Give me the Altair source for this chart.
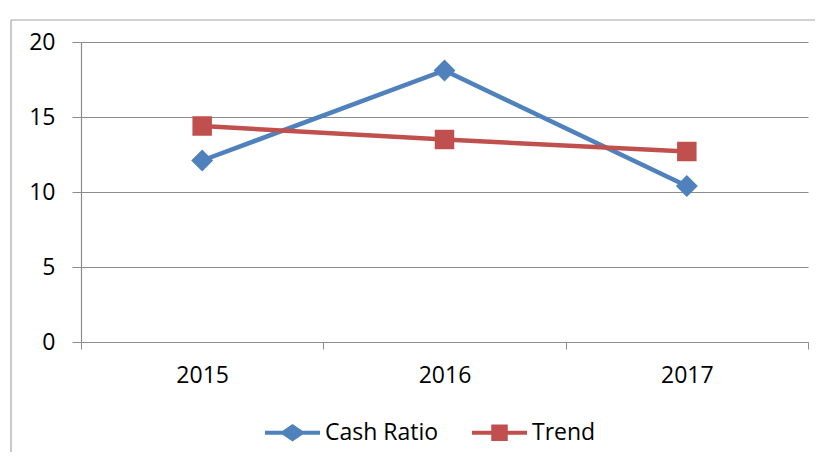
import altair as alt
import pandas as pd

years = ["2015", "2016", "2017"]
cash_ratio = [12.1, 18.1, 10.4]
trend = [14.4, 13.5, 12.7]
series_names = ["Cash Ratio", "Trend"]
series_colors = ["#4F81BD", "#C0504D"]
y_ticks = [0, 5, 10, 15, 20]

rows = []
for yr, v in zip(years, cash_ratio):
    rows.append({"year": yr, "value": v, "series": "Cash Ratio"})
for yr, v in zip(years, trend):
    rows.append({"year": yr, "value": v, "series": "Trend"})
df = pd.DataFrame(rows)

FONT = "Open Sans"
GRAY = "#8C8C8C"
FS = 23

legend_paths = [
    "M-1,-0.075L-0.36,-0.075L0,-0.32L0.36,-0.075L1,-0.075L1,0.075L0.36,0.075L0,0.32L-0.36,0.075L-1,0.075Z",
    "M-1,-0.075L-0.3,-0.075L-0.3,-0.3L0.3,-0.3L0.3,-0.075L1,-0.075L1,0.075L0.3,0.075L0.3,0.3L-0.3,0.3L-0.3,0.075L-1,0.075Z",
]

x_enc = alt.X(
    "year:N",
    sort=years,
    scale=alt.Scale(type="band", paddingInner=0, paddingOuter=0),
    axis=alt.Axis(
        title=None, labelAngle=0, tickBand="extent", tickSize=7, tickColor=GRAY,
        domainColor=GRAY, domainWidth=1.2, labelFont=FONT, labelFontSize=FS,
        labelColor="#000000", labelPadding=15, grid=False,
    ),
)
y_enc = alt.Y(
    "value:Q",
    scale=alt.Scale(domain=[0, 20], nice=False),
    axis=alt.Axis(
        title=None, values=y_ticks, tickSize=9, tickColor=GRAY, domainColor=GRAY,
        domainWidth=1.2, gridColor=GRAY, gridWidth=1.2, labelFont=FONT,
        labelFontSize=FS, labelColor="#000000", labelPadding=17,
    ),
)

base = alt.Chart(df)


def series_layers(name, color, shape, size):
    sub = base.transform_filter(alt.datum.series == name)
    ln = sub.mark_line(strokeWidth=4.5, color=color).encode(x=x_enc, y=y_enc)
    pt = sub.mark_point(shape=shape, filled=True, size=size, opacity=1, color=color).encode(
        x=x_enc, y=y_enc
    )
    return [ln, pt]


cash_layers = series_layers("Cash Ratio", series_colors[0], "diamond", 480)
trend_layers = series_layers("Trend", series_colors[1], "square", 380)

legend_props = dict(
    title=None, orient="none", legendX=184, legendY=363, direction="horizontal",
    columns=2, symbolSize=3025, symbolOpacity=1, symbolStrokeWidth=0,
    labelFont=FONT, labelFontSize=FS, labelColor="#000000", labelOffset=5,
    columnPadding=33, padding=0,
)

legend_layer = base.mark_point(filled=True, opacity=0).encode(
    x=x_enc, y=y_enc,
    color=alt.Color(
        "series:N", scale=alt.Scale(domain=series_names, range=series_colors),
        legend=alt.Legend(**legend_props),
    ),
    shape=alt.Shape(
        "series:N", scale=alt.Scale(domain=series_names, range=legend_paths),
        legend=alt.Legend(**legend_props),
    ),
)

frame_df = pd.DataFrame({"k": [0]})
frame_left = alt.Chart(frame_df).mark_rule(color="#A6A6A6", strokeWidth=1.2).encode(
    x=alt.value(-70), y=alt.value(-22), y2=alt.value(410)
)
frame_top = alt.Chart(frame_df).mark_rule(color="#A6A6A6", strokeWidth=1.2).encode(
    x=alt.value(-70), x2=alt.value(734), y=alt.value(-22)
)

chart = alt.layer(
    frame_left, frame_top, *cash_layers, *trend_layers, legend_layer
).properties(
    width=727, height=300,
    padding={"left": 73, "top": 34, "right": 7, "bottom": 115},
    autosize=alt.AutoSizeParams(type="none"),
    background="#FFFFFF",
).configure_view(strokeWidth=0)

chart.save("out.html", embed_options={"renderer": "svg", "actions": False})
